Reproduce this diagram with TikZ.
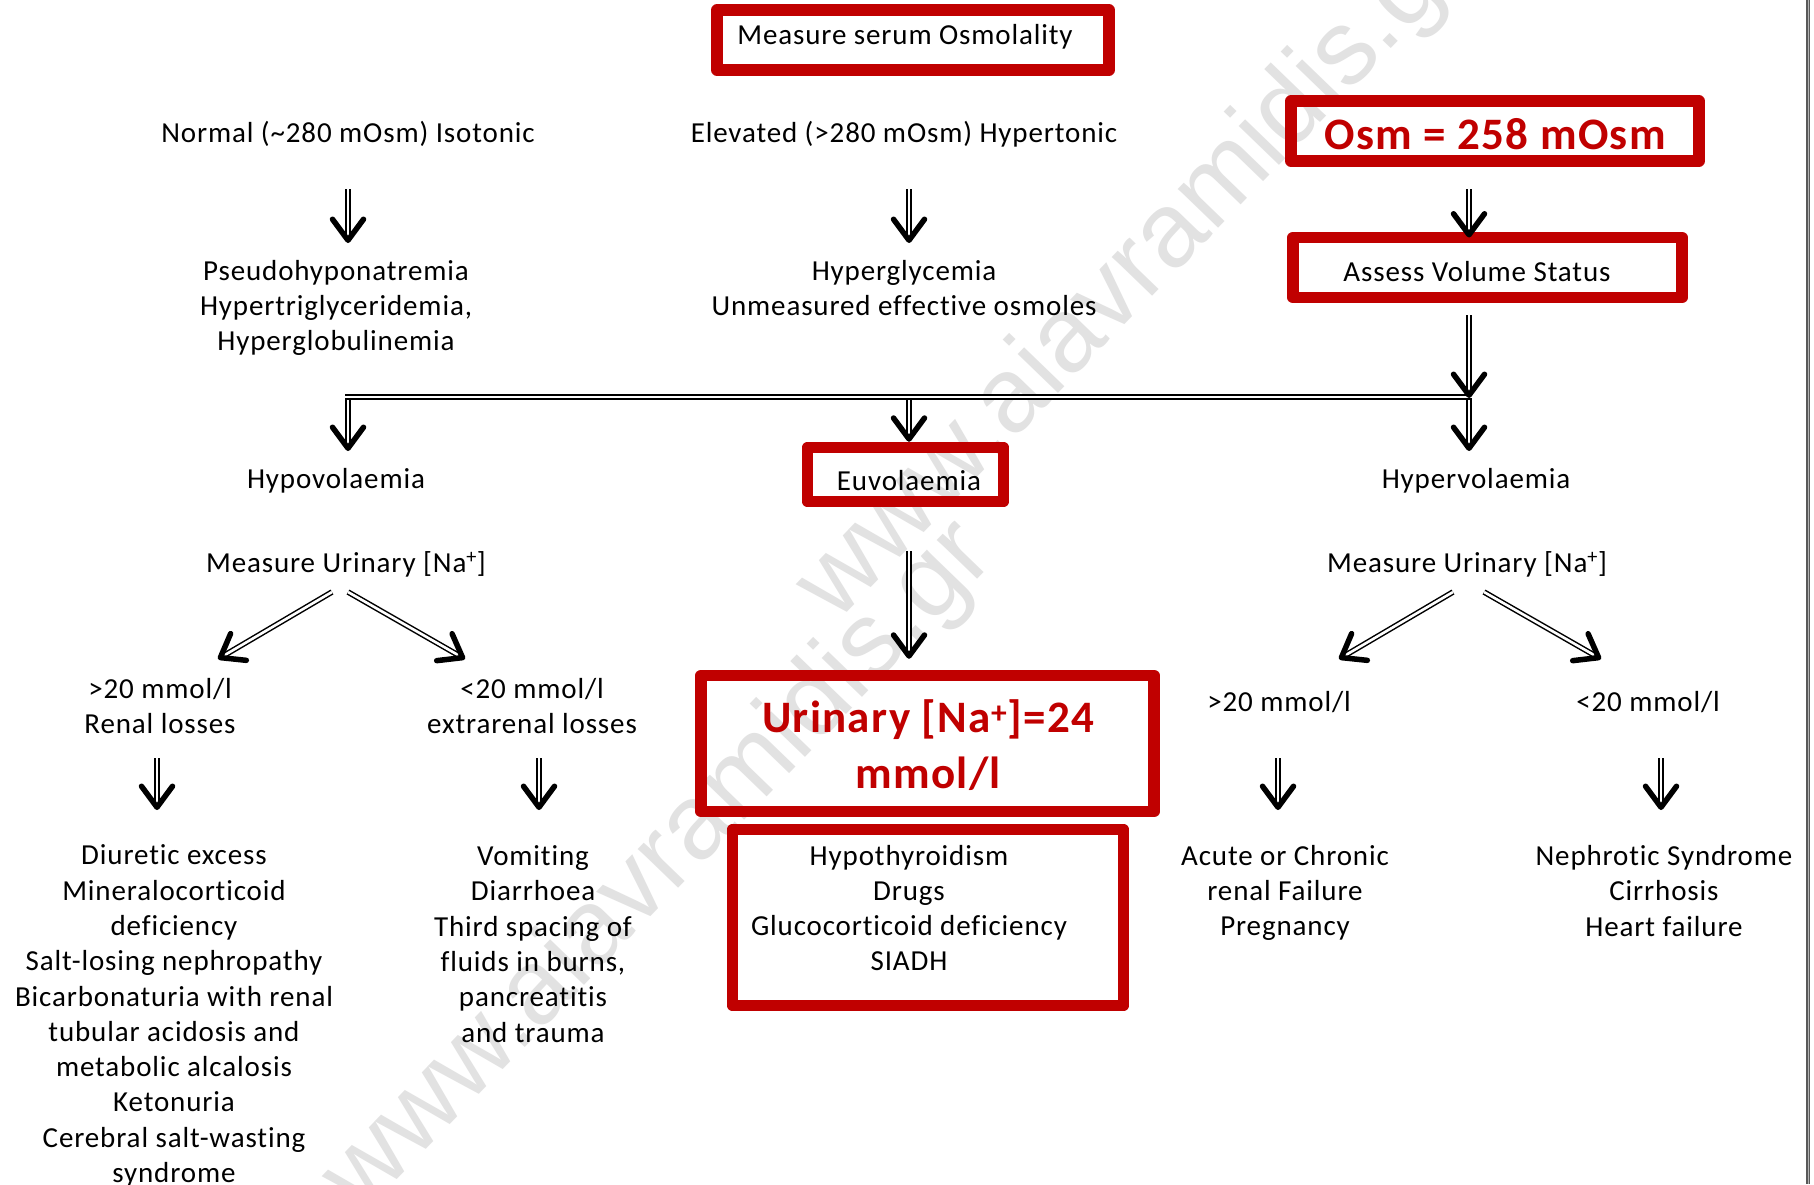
\documentclass[tikz,border=0pt]{standalone}
\usepackage{fontspec}
\setmainfont{Carlito}[LetterSpace=3,Ligatures={NoCommon}]
\newfontfamily\wmfont{Liberation Sans}
\usetikzlibrary{arrows.meta,calc}
\definecolor{boxred}{HTML}{C00000}
\definecolor{wmgray}{HTML}{E2E2E2}
\begin{document}
\begin{tikzpicture}[x=1pt,y=-1pt,
  txt/.style={inner sep=0pt, align=center, font=\fontsize{29pt}{35.3pt}\selectfont, text=black},
  redtxt/.style={inner sep=0pt, align=center, font=\fontsize{45pt}{56pt}\selectfont\bfseries, text=boxred},
  redbox/.style={draw=boxred, line width=11.5pt, line join=round, inner sep=0pt},
  wmark/.style={inner sep=0pt, anchor=center, rotate=46, text=wmgray, font=\wmfont\fontsize{106pt}{106pt}\selectfont},
  dline/.style={draw=black, double=white, double distance=2.6pt, line width=1.5pt},
  dar/.style={postaction={draw=black, double=white, double distance=2.6pt, line width=1.5pt, shorten >=5pt},
              postaction={draw=white, line width=0.1pt, -{Straight Barb[length=21pt,width=31pt,line width=5.5pt,round,color=black]}}}
]
\fill[white] (0,0) rectangle (1814,1184);
\useasboundingbox (0,0) rectangle (1814,1184);

% watermarks
\node[wmark] (wm1) at (1134,276) {www.aiavramidis.gr};
\node[wmark] (wm2) at (660,868) {www.aiavramidis.gr};

% window edge
\draw[draw=black!65, double=black!30, double distance=1pt, line width=1.6pt] (1808,0) -- (1808,1184);

% red boxes
\node[redbox, minimum width=392pt, minimum height=60pt] (meas) at (913,40) {};
\node[txt] (meastxt) at (905,37) {Measure serum Osmolality};
\node[redbox, minimum width=408pt, minimum height=60pt] (osm) at (1495,131) {};
\node[redtxt] (osmtxt) at (1495,134) {Osm = 258 mOsm};
\node[redbox, minimum width=389pt, minimum height=60pt] (assess) at (1487.5,267.5) {};
\node[txt] (assesstxt) at (1477,272) {Assess Volume Status};
\node[redbox, minimum width=196pt, minimum height=54pt] (euvo) at (905.5,474.5) {};
\node[txt] (euvotxt) at (909,481) {Euvolaemia};
\node[redbox, minimum width=453pt, minimum height=136pt] (urin) at (927.5,743.5) {};
\node[redtxt] (urintxt) at (928,745) {Urinary [Na\textsuperscript{+}]=24\\mmol/l};
\node[redbox, minimum width=391pt, minimum height=176pt] (siadh) at (928,917.5) {};
\node[txt] (siadhtxt) at (909,908) {Hypothyroidism\\Drugs\\Glucocorticoid deficiency\\SIADH};

% text nodes
\node[txt] (norm) at (348,134) {Normal (\textasciitilde280 mOsm) Isotonic};
\node[txt] (elev) at (904,134) {Elevated (>280 mOsm) Hypertonic};
\node[txt] (pseudo) at (336,308) {Pseudohyponatremia\\Hypertriglyceridemia,\\Hyperglobulinemia};
\node[txt] (hyperg) at (904,288) {Hyperglycemia\\Unmeasured effective osmoles};
\node[txt] (hypo) at (336,481) {Hypovolaemia};
\node[txt] (hyper) at (1476,481) {Hypervolaemia};
\node[txt] (mul) at (346,564) {Measure Urinary [Na\textsuperscript{+}]};
\node[txt] (mur) at (1467,564) {Measure Urinary [Na\textsuperscript{+}]};
\node[txt] (g20l) at (160,706) {>20 mmol/l\\Renal losses};
\node[txt] (l20l) at (532,706) {<20 mmol/l\\extrarenal losses};
\node[txt] (g20r) at (1279,702) {>20 mmol/l};
\node[txt] (l20r) at (1648,702) {<20 mmol/l};
\node[txt] (listL) at (174,1016) {Diuretic excess\\Mineralocorticoid\\deficiency\\Salt-losing nephropathy\\Bicarbonaturia with renal\\tubular acidosis and\\metabolic alcalosis\\Ketonuria\\Cerebral salt-wasting\\syndrome};
\node[txt] (listM) at (533,944) {Vomiting\\Diarrhoea\\Third spacing of\\fluids in burns,\\pancreatitis\\and trauma};
\node[txt] (listR1) at (1285,893) {Acute or Chronic\\renal Failure\\Pregnancy};
\node[txt] (listR2) at (1664,891) {Nephrotic Syndrome\\Cirrhosis\\Heart failure};

% junction coordinates
\coordinate (jl) at (348,397);
\coordinate (jm) at (909,397);
\coordinate (jr) at (1469,397);

% connectors
\path[dar] ($(norm.center)+(0,55)$) -- ($(norm.center |- pseudo.center)+(0,-65)$);
\path[dar] ($(elev.center)+(5,55)$) -- ($(elev.center |- hyperg.center)+(5,-45)$);
\path[dar] ($(osm.center)+(-26,58)$) -- ($(assess.center)+(-18.5,-30)$);

\path[dar] ([yshift=3pt]jl) -- ($(jl |- hypo.center)+(0,-30)$);
\path[dar] ([yshift=3pt]jm) -- (jm |- euvo.north);
\path[dar] ([yshift=3pt]jr) -- ($(jr |- hyper.center)+(0,-30)$);
\draw[dline] ([xshift=-2.8pt]jl) -- ([xshift=2.8pt]jr);
\path[dar] ($(assess.center)+(-18.5,47.5)$) -- ([yshift=-1pt]jr);

\path[dar] ($(jm |- euvo.south)+(0,44)$) -- ($(jm |- urin.north)+(0,-11)$);

\path[dar] ($(mul.center)+(-14,28)$) -- ($(g20l.center)+(58,-47)$);
\path[dar] ($(mul.center)+(2,28)$) -- ($(l20l.center)+(-67,-47)$);
\path[dar] ($(mur.center)+(-14,28)$) -- ($(g20r.center)+(60,-43)$);
\path[dar] ($(mur.center)+(17,28)$) -- ($(l20r.center)+(-47,-43)$);

\path[dar] ($(g20l.center)+(-3,52)$) -- ($(listL.center)+(-17,-206)$);
\path[dar] ($(l20l.center)+(7,52)$) -- ($(listM.center)+(6,-134)$);
\path[dar] ($(g20r.center)+(-1,56)$) -- ($(listR1.center)+(-7,-83)$);
\path[dar] ($(l20r.center)+(13,56)$) -- ($(listR2.center)+(-3,-81)$);
\end{tikzpicture}
\end{document}
